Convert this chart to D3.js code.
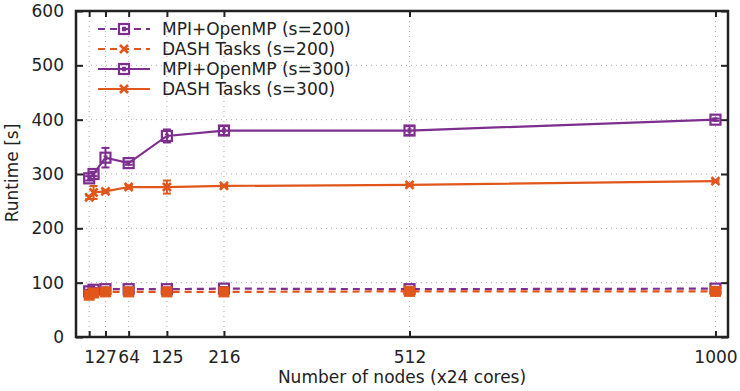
<!DOCTYPE html>
<html><head><meta charset="utf-8">
<script src="https://cdn.jsdelivr.net/npm/d3@7"></script>
<style>body{margin:0;background:#fff}svg{display:block;font-family:"DejaVu Sans",sans-serif}</style>
</head><body><svg id="c" width="740" height="391"></svg>
<script>
const nodes = [1, 8, 27, 64, 125, 216, 512, 1000];
const xTicks = [1, 27, 64, 125, 216, 512, 1000];
const yTicks = [0, 100, 200, 300, 400, 500, 600];
const mpi200 = [84, 87, 88, 88, 88, 89, 88, 89];
const mpi200Err = [3, 3, 3, 3, 3, 3, 3, 3];
const dash200 = [77, 81, 83, 83, 83, 83, 84, 84];
const dash200Err = [5, 5, 5, 5, 5, 5, 5, 5];
const mpi300 = [292, 300, 330, 320, 370, 380, 380, 400];
const mpi300Err = [4, 4, 18, 3, 12, 8, 8, 2];
const dash300 = [257, 266, 268, 276, 276, 278, 280, 287];
const dash300Err = [3, 12, 3, 3, 12, 2, 2, 2];
const seriesNames = ["MPI+OpenMP (s=200)", "DASH Tasks (s=200)", "MPI+OpenMP (s=300)", "DASH Tasks (s=300)"];

const purple = "#7d2e8e", orange = "#e0561b";
const series = [
  {name: seriesNames[0], vals: mpi200, err: mpi200Err, color: purple, dash: true, mk: "sq"},
  {name: seriesNames[1], vals: dash200, err: dash200Err, color: orange, dash: true, mk: "fill"},
  {name: seriesNames[2], vals: mpi300, err: mpi300Err, color: purple, dash: false, mk: "sq"},
  {name: seriesNames[3], vals: dash300, err: dash300Err, color: orange, dash: false, mk: "x"}
];

const L = 76, R = 728, T = 11, B = 337;
const FS = 17;
const x = d3.scaleLinear().domain([-20, 1020]).range([L, R]);
const y = d3.scaleLinear().domain([0, 600]).range([B, T]);
const svg = d3.select("#c");

// grid
const g = svg.append("g");
g.selectAll(".gx").data(xTicks).join("line")
  .attr("x1", d => x(d)).attr("x2", d => x(d)).attr("y1", T).attr("y2", B)
  .attr("stroke", "#aaa").attr("stroke-width", 1).attr("stroke-dasharray", "1,4");
g.selectAll(".gy").data(yTicks.slice(1, -1)).join("line")
  .attr("y1", d => y(d)).attr("y2", d => y(d)).attr("x1", L).attr("x2", R)
  .attr("stroke", "#aaa").attr("stroke-width", 1).attr("stroke-dasharray", "1,4");

// axes
const ax = svg.append("g").attr("transform", `translate(0,${B})`)
  .call(d3.axisBottom(x).tickValues(xTicks).tickSize(-6).tickPadding(14).tickFormat(d3.format("d")));
const axT = svg.append("g").attr("transform", `translate(0,${T})`)
  .call(d3.axisTop(x).tickValues(xTicks).tickSize(-6).tickFormat(""));
const ay = svg.append("g").attr("transform", `translate(${L},0)`)
  .call(d3.axisLeft(y).tickValues(yTicks).tickSize(-7).tickPadding(12));
const ayR = svg.append("g").attr("transform", `translate(${R},0)`)
  .call(d3.axisRight(y).tickValues(yTicks).tickSize(-7).tickFormat(""));
[ax, axT, ay, ayR].forEach(a => {
  a.select(".domain").remove();
  a.selectAll(".tick line").attr("stroke", "#222").attr("stroke-width", 2);
  a.selectAll("text").attr("font-size", FS).attr("fill", "#222").attr("font-family", "DejaVu Sans");
});
ax.selectAll("text").attr("dy", "0.71em");
svg.append("rect").attr("x", L).attr("y", T).attr("width", R - L).attr("height", B - T)
  .attr("fill", "none").attr("stroke", "#222").attr("stroke-width", 2.5);

// axis titles
svg.append("text").attr("x", 402).attr("y", 383).attr("text-anchor", "middle")
  .attr("font-size", FS).attr("fill", "#222").text("Number of nodes (x24 cores)");
svg.append("text").attr("transform", "translate(18,173) rotate(-90)").attr("text-anchor", "middle")
  .attr("font-size", FS).attr("fill", "#222").text("Runtime [s]");

function marker(sel, kind, color) {
  if (kind === "sq") {
    sel.append("rect").attr("x", -5).attr("y", -5).attr("width", 10).attr("height", 10)
      .attr("fill", "none").attr("stroke", color).attr("stroke-width", 2.2);
    sel.append("line").attr("x1", -2).attr("x2", 2).attr("y1", -1.5).attr("y2", -1.5).attr("stroke", color).attr("stroke-width", 1.5);
    sel.append("line").attr("x1", -2).attr("x2", 2).attr("y1", 1.5).attr("y2", 1.5).attr("stroke", color).attr("stroke-width", 1.5);
  } else if (kind === "fill") {
    sel.append("rect").attr("x", -5).attr("y", -5).attr("width", 10).attr("height", 10)
      .attr("fill", color).attr("stroke", color).attr("stroke-width", 1);
  } else {
    sel.append("path").attr("d", "M-4,-4L4,4M-4,4L4,-4").attr("stroke", color).attr("stroke-width", 2.6);
  }
}

const line = d3.line().x(d => x(d[0])).y(d => y(d[1]));
series.forEach(s => {
  const pts = nodes.map((n, i) => [n, s.vals[i], s.err[i]]);
  const sg = svg.append("g");
  sg.append("path").datum(pts).attr("d", line).attr("fill", "none")
    .attr("stroke", s.color).attr("stroke-width", 2.2)
    .attr("stroke-dasharray", s.dash ? "7,5" : null);
  const eb = sg.selectAll(".eb").data(pts).join("g");
  eb.append("line").attr("x1", d => x(d[0])).attr("x2", d => x(d[0]))
    .attr("y1", d => y(d[1] - d[2])).attr("y2", d => y(d[1] + d[2]))
    .attr("stroke", s.color).attr("stroke-width", 2);
  eb.append("line").attr("x1", d => x(d[0]) - 4).attr("x2", d => x(d[0]) + 4)
    .attr("y1", d => y(d[1] - d[2])).attr("y2", d => y(d[1] - d[2]))
    .attr("stroke", s.color).attr("stroke-width", 2);
  eb.append("line").attr("x1", d => x(d[0]) - 4).attr("x2", d => x(d[0]) + 4)
    .attr("y1", d => y(d[1] + d[2])).attr("y2", d => y(d[1] + d[2]))
    .attr("stroke", s.color).attr("stroke-width", 2);
  pts.forEach(p => {
    const m = sg.append("g").attr("transform", `translate(${x(p[0])},${y(p[1])})`);
    marker(m, s.mk, s.color);
  });
});

// legend
const lg = svg.append("g");
series.forEach((s, i) => {
  const yy = 29 + i * 20;
  lg.append("line").attr("x1", 98).attr("x2", 150).attr("y1", yy).attr("y2", yy)
    .attr("stroke", s.color).attr("stroke-width", 2.2)
    .attr("stroke-dasharray", s.dash ? "7,5" : null);
  const m = lg.append("g").attr("transform", `translate(124,${yy})`);
  marker(m, s.mk === "fill" ? "x" : s.mk, s.color);
  lg.append("text").attr("x", 162).attr("y", yy).attr("dy", "0.35em")
    .attr("font-size", FS).attr("fill", "#222").text(s.name);
});
</script></body></html>
